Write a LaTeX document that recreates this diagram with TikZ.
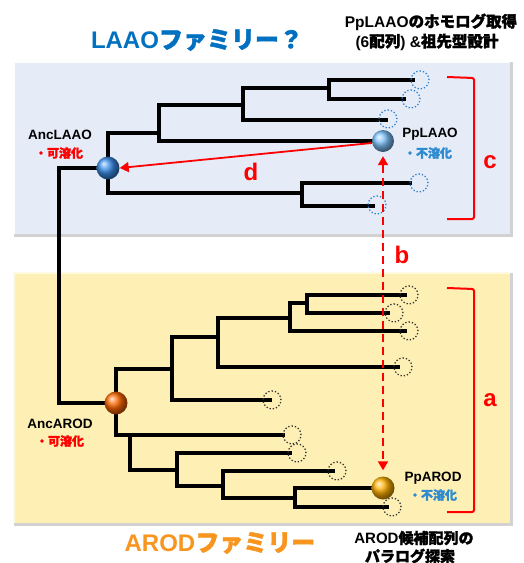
\documentclass[tikz,border=0pt]{standalone}
\usepackage{fontspec}
\setmainfont{Liberation Sans}
\newfontfamily\jp{Noto Sans CJK JP}[FakeBold=1.7]
\usetikzlibrary{arrows.meta}
\definecolor{boxblue}{HTML}{E5ECF8}
\definecolor{boxyellow}{HTML}{FEF0B4}
\definecolor{titleblue}{HTML}{0070C0}
\definecolor{titleorange}{HTML}{F7951E}
\definecolor{subblue}{HTML}{2E8BD0}
\definecolor{leafblue}{HTML}{2E80D0}
\definecolor{redc}{HTML}{FF0000}
\definecolor{ballA}{HTML}{3A8EEA}
\definecolor{ballB}{HTML}{7EC2FA}
\definecolor{ballC}{HTML}{FF6600}
\definecolor{ballD}{HTML}{FFB000}
\tikzset{
  tree/.style={line width=3.2pt, line join=miter, line cap=rect, black},
  leafb/.style={circle, draw=leafblue, dotted, line width=1.3pt, minimum size=18pt, inner sep=0pt},
  leafk/.style={circle, draw=black!80, dotted, line width=1.3pt, minimum size=18pt, inner sep=0pt},
  ball/.style={circle, minimum size=23pt, inner sep=0pt, shading=ball},
  lbl/.style={font=\bfseries\fontsize{13.5}{15}\selectfont, inner sep=0pt},
  sublbl/.style={font=\bfseries\fontsize{12}{14}\selectfont, inner sep=0pt},
  letter/.style={font=\bfseries\fontsize{24}{26}\selectfont, text=redc, inner sep=0pt},
  brk/.style={draw=redc, line width=2pt, rounded corners=2pt},
}
\begin{document}
\begin{tikzpicture}[x=1pt,y=-1pt]
\useasboundingbox (0,0) rectangle (524,563);
% boxes
\fill[gray!35] (14,62) rectangle (513,237);
\fill[boxblue] (13,61) rectangle (510,234);
\draw[white, line width=1.5pt] (14,234) -- (14,62) -- (510,62);
\fill[gray!35] (14,273) rectangle (513,526);
\fill[boxyellow] (13,272) rectangle (510,523);
\draw[white!60!boxyellow, line width=1.5pt] (14,523) -- (14,273) -- (510,273);
% titles
\node[inner sep=0pt, text=titleblue, font=\bfseries\fontsize{24}{26}\selectfont] (t1) at (197,40) {LAAO{\jp ファミリー？}};
\node[inner sep=0pt, text=titleorange, font=\bfseries\fontsize{24}{26}\selectfont] (t2) at (220,543) {AROD{\jp ファミリー}};
\node[inner sep=0pt, font=\bfseries\fontsize{15.5}{17}\selectfont] (t3) at (431,22) {PpLAAO{\jp のホモログ取得}};
\node[inner sep=0pt, font=\bfseries\fontsize{15.5}{17}\selectfont] (t4) at (427,42) {(6{\jp 配列}) \&{\jp 祖先型設計}};
\node[inner sep=0pt, font=\bfseries\fontsize{15}{17}\selectfont] (t5) at (414,538) {AROD{\jp 候補配列の}};
\node[inner sep=0pt, font=\bfseries\fontsize{15}{17}\selectfont] (t6) at (410,556) {\jp パラログ探索};
% ball positions
\coordinate (ancl) at (108,168);
\coordinate (ppl) at (383,141);
\coordinate (anca) at (116,403);
\coordinate (ppa) at (383,488);
% top tree
\draw[tree] (413,80) -- (329,80) -- (329,99) -- (404,99);
\draw[tree] (329,88) -- (243,88) -- (243,120) -- (386,120);
\draw[tree] (243,105) -- (159,105) -- (159,141) -- (ppl);
\draw[tree] (159,133) -- (108,133) -- (ancl);
\draw[tree] (ancl) -- (108,193) -- (302,193);
\draw[tree] (410,183) -- (302,183) -- (302,206) -- (373,206);
\draw[tree] (ancl) -- (59,168) -- (59,403) -- (anca);
% bottom tree
\draw[tree] (anca) -- (116,369) -- (172,369);
\draw[tree] (270,400) -- (172,400) -- (172,337) -- (218,337);
\draw[tree] (398,367) -- (218,367) -- (218,318) -- (290,318);
\draw[tree] (405,331) -- (290,331) -- (290,303) -- (307,303);
\draw[tree] (405,295) -- (307,295) -- (307,313) -- (388,313);
\draw[tree] (anca) -- (116,435) -- (283,435);
\draw[tree] (130,435) -- (130,470) -- (177,470);
\draw[tree] (290,453) -- (177,453) -- (177,486) -- (223,486);
\draw[tree] (333,471) -- (223,471) -- (223,498) -- (295,498);
\draw[tree] (ppa) -- (295,488) -- (295,507) -- (387,507);
% balls
\node[ball, ball color=ballA] (nancl) at (ancl) {};
\node[ball, ball color=ballB, minimum size=22pt] (nppl) at (ppl) {};
\node[ball, ball color=ballC] (nanca) at (anca) {};
\node[ball, ball color=ballD] (nppa) at (ppa) {};
% leaf circles
\node[leafb] (l1) at (420,80) {};
\node[leafb] (l2) at (411,99) {};
\node[leafb] (l3) at (388,119) {};
\node[leafb] (l4) at (419,183) {};
\node[leafb] (l5) at (377,205) {};
\node[leafk] (m1) at (409,295) {};
\node[leafk] (m2) at (394,313) {};
\node[leafk] (m3) at (409,331) {};
\node[leafk] (m4) at (403,367) {};
\node[leafk] (m5) at (272,400) {};
\node[leafk] (m6) at (292,435) {};
\node[leafk] (m7) at (297,453) {};
\node[leafk] (m8) at (337,471) {};
\node[leafk] (m9) at (392,507) {};
% labels
\node[lbl] (la1) at (60,135) {AncLAAO};
\node[sublbl, text=redc] (la2) at (59,153) {\jp ・可溶化};
\node[lbl] (la3) at (430,134) {PpLAAO};
\node[sublbl, text=subblue] (la4) at (428,153) {\jp ・不溶化};
\node[lbl] (la5) at (60,424) {AncAROD};
\node[sublbl, text=redc] (la6) at (60,441) {\jp ・可溶化};
\node[lbl] (la7) at (433,478) {PpAROD};
\node[sublbl, text=subblue] (la8) at (433,495) {\jp ・不溶化};
% arrows
\draw[redc, line width=1.8pt, -{Triangle[length=9pt,width=10pt]}] ([yshift=-2pt]nppl.west) -- (nancl.east);
\draw[redc, line width=1.8pt, dash pattern=on 8pt off 5pt, {Triangle[length=9pt,width=10pt]}-{Triangle[length=9pt,width=10pt]}] ([yshift=-4pt]nppl.south) -- ([yshift=6pt]nppa.north);
\node[letter] (ld) at (251,172) {d};
\node[letter] (lb) at (402,255) {b};
% brackets
\draw[brk] (447,77) -- (474,78) -- (474,219) -- (447,219);
\draw[brk] (447,288) -- (474,289) -- (474,512) -- (447,512);
\node[letter] (lc) at (490,162) {c};
\node[letter] (lA) at (490,400) {a};
\end{tikzpicture}
\end{document}
